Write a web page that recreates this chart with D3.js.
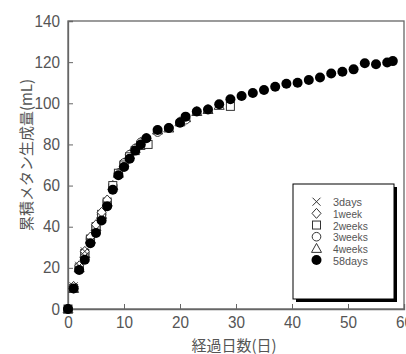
<!DOCTYPE html>
<html>
<head>
<meta charset="utf-8">
<script src="https://cdn.jsdelivr.net/npm/d3@7"></script>
<style>
  body { margin: 0; background: #fff; }
  svg text { font-family: "Liberation Sans", sans-serif; }
  .jp { font-family: "Noto Sans CJK JP", sans-serif; }
</style>
</head>
<body>
<div id="chart"></div>
<script>
// series: [day, cumulative methane mL]
var days3 = [[0, 0], [1, 11], [2, 21], [3, 28]];
var week1 = [[0, 0], [1, 11], [2, 21], [3, 28], [4, 35], [5, 41], [6, 47], [7, 53]];
var weeks2 = [[0, 0], [1, 10], [2, 20], [3, 27], [4, 34], [5, 40], [6, 46], [7, 52], [8, 60],
  [9, 66], [10, 70], [11, 74], [12, 77], [13, 79.5], [14.3, 80], [29, 98.5]];
var weeks3 = [[0, 0], [1, 10], [2, 20], [3, 27], [4, 34], [5, 40], [6, 46], [7, 52], [8, 60],
  [9, 66], [10, 71], [11, 75], [12, 78], [13, 81], [14, 83], [16, 86], [18, 88], [20, 91], [21, 92]];
var weeks4 = [[0, 0], [1, 10], [2, 20], [3, 27], [4, 34], [5, 40], [6, 46], [7, 52], [8, 60],
  [9, 66], [10, 71], [11, 75], [12, 78], [13, 81], [14, 83], [16, 87], [18, 88], [20, 91],
  [21, 93], [23, 96], [25, 97], [27, 99]];
var days58 = [[0, 0], [1, 10], [2, 19], [3, 24], [4, 32], [5, 37], [6, 43], [7, 50], [8, 58],
  [9, 65], [10, 69], [11, 73], [12, 77], [13, 80], [14, 83], [16, 87], [18, 88], [20, 90.5],
  [21, 93.5], [23, 96], [25, 97], [27, 99.5], [29, 102], [31, 103.5], [33, 105], [35, 106.5],
  [37, 108], [39, 109.5], [41, 110], [43, 111.3], [45, 112.5], [47, 114.5], [49, 115.3],
  [51, 116.5], [53, 119.5], [55, 119], [57, 119.8], [58, 120.5]];

var xTicks = [0, 10, 20, 30, 40, 50, 60];
var yTicks = [0, 20, 40, 60, 80, 100, 120, 140];
var legendNames = ['3days', '1week', '2weeks', '3weeks', '4weeks', '58days'];

var W = 406, H = 354;
var svg = d3.select('#chart').append('svg').attr('width', W).attr('height', H);

var x = d3.scaleLinear().domain([0, 60]).range([68, 404]);
var y = d3.scaleLinear().domain([0, 140]).range([309, 21]);

var axisColor = '#666';
var textColor = '#555';

// frame
svg.append('rect')
  .attr('x', x(0)).attr('y', y(140))
  .attr('width', x(60) - x(0)).attr('height', y(0) - y(140))
  .attr('fill', 'none').attr('stroke', axisColor).attr('stroke-width', 1.3);

// axes with inward ticks
var xAxis = d3.axisBottom(x).tickValues(xTicks).tickSize(-5).tickPadding(8);
var gx = svg.append('g').attr('transform', 'translate(0,' + y(0) + ')').call(xAxis);
var yAxis = d3.axisLeft(y).tickValues(yTicks).tickSize(-5).tickPadding(8);
var gy = svg.append('g').attr('transform', 'translate(' + x(0) + ',0)').call(yAxis);
[gx, gy].forEach(function(g) {
  g.select('.domain').attr('stroke', axisColor).attr('stroke-width', 1.3);
  g.selectAll('.tick line').attr('stroke', axisColor);
  // narrow digits like the original bitmap font
  g.selectAll('.tick text').attr('fill', textColor)
    .style('font-size', '16px')
    .attr('textLength', function(d) { return String(d).length * 8.5; })
    .attr('lengthAdjust', 'spacingAndGlyphs');
});

// axis titles
svg.append('text').attr('class', 'jp')
  .attr('transform', 'translate(25,155) rotate(-90)')
  .attr('text-anchor', 'middle').attr('dominant-baseline', 'central')
  .attr('fill', textColor).style('font-size', '15px')
  .text('累積メタン生成量(mL)');
svg.append('text').attr('class', 'jp')
  .attr('x', 234).attr('y', 344)
  .attr('text-anchor', 'middle').attr('dominant-baseline', 'central')
  .attr('fill', textColor).style('font-size', '15px')
  .text('経過日数(日)');

// marker drawers
function drawMarker(g, type, cx, cy) {
  var s = '#333';
  if (type === 'x') {
    g.append('path').attr('d', 'M' + (cx - 4) + ',' + (cy - 4) + 'L' + (cx + 4) + ',' + (cy + 4) +
      'M' + (cx - 4) + ',' + (cy + 4) + 'L' + (cx + 4) + ',' + (cy - 4))
      .attr('stroke', s).attr('stroke-width', 1).attr('fill', 'none');
  } else if (type === 'diamond') {
    g.append('path').attr('d', 'M' + cx + ',' + (cy - 5) + 'L' + (cx + 4.5) + ',' + cy + 'L' + cx + ',' + (cy + 5) +
      'L' + (cx - 4.5) + ',' + cy + 'Z').attr('stroke', s).attr('stroke-width', 1).attr('fill', '#fff');
  } else if (type === 'square') {
    g.append('rect').attr('x', cx - 4).attr('y', cy - 4).attr('width', 8).attr('height', 8)
      .attr('stroke', s).attr('stroke-width', 1).attr('fill', '#fff');
  } else if (type === 'circle') {
    g.append('circle').attr('cx', cx).attr('cy', cy).attr('r', 4.3)
      .attr('stroke', s).attr('stroke-width', 1).attr('fill', '#fff');
  } else if (type === 'triangle') {
    g.append('path').attr('d', 'M' + cx + ',' + (cy - 5) + 'L' + (cx + 5) + ',' + (cy + 4) + 'L' + (cx - 5) + ',' + (cy + 4) + 'Z')
      .attr('stroke', s).attr('stroke-width', 1).attr('fill', '#fff');
  } else {
    g.append('circle').attr('cx', cx).attr('cy', cy).attr('r', 5).attr('fill', '#000');
  }
}

var series = [
  { data: weeks4, type: 'triangle' },
  { data: weeks3, type: 'circle' },
  { data: weeks2, type: 'square' },
  { data: week1, type: 'diamond' },
  { data: days3, type: 'x' },
  { data: days58, type: 'filled' }
];
var pts = svg.append('g');
series.forEach(function(sr) {
  sr.data.forEach(function(d) { drawMarker(pts, sr.type, x(d[0]), y(d[1])); });
});

// legend with drop shadow
var lg = svg.append('g');
lg.append('rect').attr('x', 296).attr('y', 187).attr('width', 101).attr('height', 115).attr('fill', '#000');
lg.append('rect').attr('x', 293).attr('y', 184).attr('width', 101).attr('height', 115)
  .attr('fill', '#fff').attr('stroke', '#000').attr('stroke-width', 1);
var legendTypes = ['x', 'diamond', 'square', 'circle', 'triangle', 'filled'];
legendNames.forEach(function(name, i) {
  var ly = 201.7 + i * 11.67;
  drawMarker(lg, legendTypes[i], 316.5, ly);
  lg.append('text').attr('x', 333).attr('y', ly + 0.5).attr('dominant-baseline', 'central')
    .attr('fill', textColor).style('font-size', '11.5px')
    .attr('textLength', name.length * 5.8).attr('lengthAdjust', 'spacingAndGlyphs')
    .text(name);
});
</script>
</body>
</html>
